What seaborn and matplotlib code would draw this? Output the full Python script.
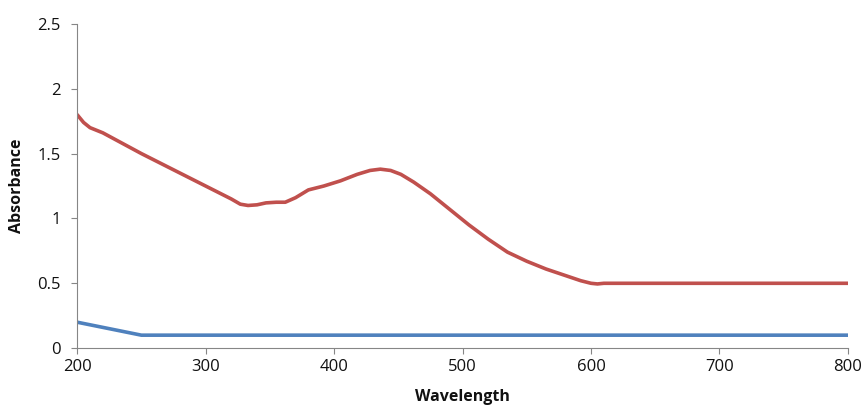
import pandas as pd
import matplotlib.pyplot as plt
import seaborn as sns
from matplotlib.ticker import FuncFormatter

sns.set_theme(style="white")
plt.rcParams['font.family'] = ['Open Sans', 'DejaVu Sans']

# Datos
wl_red = [200, 205, 210, 220, 235, 250, 270, 290, 310, 320, 327, 333, 340, 347, 355, 362, 370,
          380, 392, 405, 418, 428, 436, 444, 452, 462, 475, 490, 505, 520, 535, 550, 565,
          580, 592, 600, 605, 610, 700, 800]
abs_red = [1.80, 1.74, 1.70, 1.66, 1.58, 1.50, 1.40, 1.30, 1.20, 1.15, 1.11, 1.10, 1.105, 1.12, 1.125, 1.125, 1.16,
           1.22, 1.25, 1.29, 1.34, 1.37, 1.38, 1.37, 1.34, 1.28, 1.19, 1.07, 0.95, 0.84, 0.74, 0.67, 0.61,
           0.56, 0.52, 0.50, 0.495, 0.50, 0.50, 0.50]

wl_blue = [200, 250, 800]
abs_blue = [0.20, 0.10, 0.10]

df_red = pd.DataFrame({'Wavelength': wl_red, 'Absorbance': abs_red})
df_blue = pd.DataFrame({'Wavelength': wl_blue, 'Absorbance': abs_blue})

fig = plt.figure(figsize=(8.67, 4.12), dpi=100)
ax = fig.add_axes([0.089, 0.155, 0.889, 0.787])

sns.lineplot(data=df_blue, x='Wavelength', y='Absorbance', color='#4F81BD', linewidth=2.6, ax=ax)
sns.lineplot(data=df_red, x='Wavelength', y='Absorbance', color='#C0504D', linewidth=2.6, ax=ax)

ax.set_xlim(200, 800)
ax.set_ylim(0, 2.5)
ax.set_xticks([200, 300, 400, 500, 600, 700, 800])
ax.set_yticks([0, 0.5, 1, 1.5, 2, 2.5])
ax.yaxis.set_major_formatter(FuncFormatter(lambda v, p: f'{v:g}'))

for s in ['top', 'right']:
    ax.spines[s].set_visible(False)
for s in ['left', 'bottom']:
    ax.spines[s].set_color('#868686')
    ax.spines[s].set_linewidth(0.8)

ax.tick_params(axis='both', direction='out', length=4, width=0.8, color='#868686',
               labelsize=12, labelcolor='#111111', bottom=True, left=True)
ax.tick_params(axis='y', pad=8)

ax.set_xlabel('Wavelength', fontsize=11.5, fontweight='bold', color='#111111')
ax.set_ylabel('Absorbance', fontsize=11.5, fontweight='bold', color='#111111')
ax.xaxis.set_label_coords(0.5, -0.125)
ax.yaxis.set_label_coords(-0.068, 0.5)

fig.savefig('out.png', dpi=100)
